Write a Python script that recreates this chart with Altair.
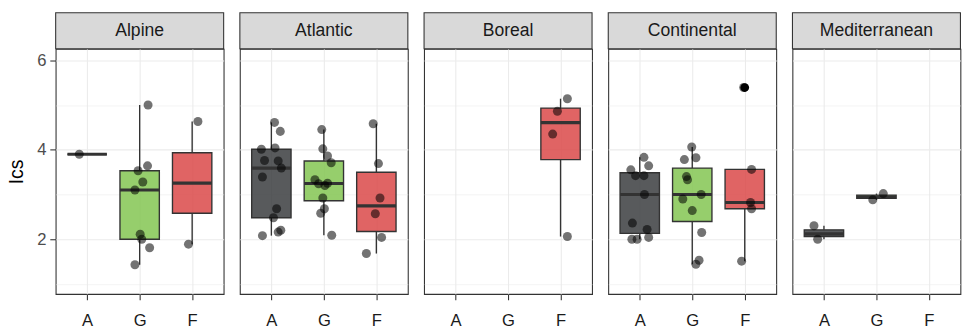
import json

import altair as alt
import pandas as pd

REGIONS = ["Alpine", "Atlantic", "Boreal", "Continental", "Mediterranean"]
GROUPS = ["A", "G", "F"]
GROUP_FILLS = ["#3b3d40", "#84c652", "#da4949"]

# Ics per region: group, value, horizontal jitter of the dot (None = value not drawn as a dot)
alpine_group = ["A",
                "G", "G", "G", "G", "G", "G", "G", "G", "G",
                "F", "F", "F", "F"]
alpine_ics = [3.90,
              5.00, 3.53, 3.64, 3.28, 3.10, 2.11, 2.00, 1.81, 1.43,
              4.63, 1.89, 2.81, 3.70]
alpine_jitter = [-0.15,
                 0.16, -0.03, 0.15, 0.06, -0.09, 0.01, 0.04, 0.19, -0.09,
                 0.11, -0.07, None, None]

atlantic_group = ["A", "A", "A", "A", "A", "A", "A", "A", "A", "A", "A", "A", "A",
                  "G", "G", "G", "G", "G", "G", "G", "G", "G", "G", "G", "G",
                  "F", "F", "F", "F", "F", "F"]
atlantic_ics = [4.61, 4.41, 4.01, 4.04, 3.76, 3.75, 3.59, 3.39, 2.68, 2.48, 2.08, 2.16, 2.20,
                4.45, 4.02, 3.86, 3.71, 3.33, 3.24, 3.25, 3.20, 2.92, 2.68, 2.58, 2.09,
                4.58, 3.69, 2.92, 2.57, 2.04, 1.68]
atlantic_jitter = [0.06, 0.17, -0.19, 0.07, -0.13, 0.13, 0.19, -0.17, 0.10, 0.04, -0.17, 0.13, 0.18,
                   -0.04, -0.02, 0.07, 0.14, -0.17, -0.10, 0.07, 0.02, -0.02, 0.01, -0.06, 0.15,
                   -0.06, 0.04, 0.07, -0.02, 0.10, -0.19]

boreal_group = ["F", "F", "F", "F"]
boreal_ics = [5.14, 4.86, 4.35, 2.06]
boreal_jitter = [0.13, -0.06, -0.15, 0.13]

continental_group = ["A", "A", "A", "A", "A", "A", "A", "A", "A", "A", "A",
                     "G", "G", "G", "G", "G", "G", "G", "G", "G", "G", "G",
                     "F", "F", "F", "F", "F"]
continental_ics = [3.83, 3.64, 3.55, 3.42, 3.42, 3.00, 2.36, 2.22, 2.00, 2.00, 2.04,
                   4.06, 3.78, 3.82, 3.40, 3.33, 2.90, 3.00, 2.64, 2.15, 1.44, 1.53,
                   5.39, 3.56, 2.82, 2.68, 1.51]
continental_jitter = [0.08, 0.17, -0.17, -0.08, 0.08, 0.09, -0.14, 0.14, -0.15, -0.05, 0.17,
                      -0.01, -0.15, 0.07, -0.11, -0.09, -0.18, 0.17, 0.00, 0.18, 0.07, 0.13,
                      -0.02, 0.13, 0.11, 0.13, -0.06]

mediterranean_group = ["A", "A", "A", "G", "G"]
mediterranean_ics = [2.30, 2.00, 2.12, 2.88, 3.02]
mediterranean_jitter = [-0.19, -0.12, None, -0.07, 0.13]

frames = []
for name, grp, val, jit in [
    ("Alpine", alpine_group, alpine_ics, alpine_jitter),
    ("Atlantic", atlantic_group, atlantic_ics, atlantic_jitter),
    ("Boreal", boreal_group, boreal_ics, boreal_jitter),
    ("Continental", continental_group, continental_ics, continental_jitter),
    ("Mediterranean", mediterranean_group, mediterranean_ics, mediterranean_jitter),
]:
    frames.append(pd.DataFrame({"region": name, "group": grp, "ics": val, "jitter": jit}))
data = pd.concat(frames, ignore_index=True)
strips = pd.DataFrame({"region": REGIONS})

W, H = 172, 251
STRIP_H = 37
GROUPS_JS = json.dumps(GROUPS)
EVEN = "datum.value % 2 === 0"

x_scale = alt.Scale(domain=[0.4, 3.6], nice=False, zero=False)
y_scale = alt.Scale(domain=[0.777, 6.255], nice=False, zero=False)

x_axis = alt.Axis(
    values=[1, 2, 3], labelExpr=f"{GROUPS_JS}[datum.value - 1]", title=None,
    domain=False, tickSize=6, tickColor="#333333", tickWidth=1.1,
    labelFontSize=17, labelColor="#1a1a1a", labelPadding=13,
    grid=True, gridColor="#ebebeb", gridWidth=1.1,
)


def y_axis(first):
    common = dict(
        values=[1, 2, 3, 4, 5, 6], domain=False, grid=True, gridColor="#ebebeb",
        gridWidth={"condition": {"test": EVEN, "value": 1.1}, "value": 0.55},
    )
    if first:
        return alt.Axis(
            title="Ics", titleFontSize=20, titleFontWeight="normal", titleColor="#000000",
            titlePadding=10, labelExpr=f"{EVEN} ? datum.label : ''",
            labelFontSize=17, labelColor="#4d4d4d", labelPadding=4,
            tickSize=6, tickColor="#333333", tickWidth=1.1,
            tickOpacity={"condition": {"test": EVEN, "value": 1}, "value": 0},
            **common,
        )
    return alt.Axis(title=None, labels=False, ticks=False, **common)


def panel(region, first):
    ya = y_axis(first)

    def X(f):
        return alt.X(f, type="quantitative", scale=x_scale, axis=x_axis)

    def Y(f):
        return alt.Y(f, type="quantitative", scale=y_scale, axis=ya)

    base = alt.Chart(data).transform_filter(
        alt.datum.region == region
    ).transform_calculate(idx=f"indexof({GROUPS_JS}, datum.group) + 1")

    fenced = base.transform_joinaggregate(
        q1="q1(ics)", q3="q3(ics)", groupby=["group"]
    ).transform_calculate(
        lo="datum.q1 - 1.5 * (datum.q3 - datum.q1)",
        hi="datum.q3 + 1.5 * (datum.q3 - datum.q1)",
    )

    stats = fenced.transform_calculate(
        inside="datum.ics >= datum.lo && datum.ics <= datum.hi ? datum.ics : null"
    ).transform_aggregate(
        q1="q1(ics)", med="median(ics)", q3="q3(ics)",
        wlo="min(inside)", whi="max(inside)", groupby=["group", "idx"],
    ).transform_calculate(left="datum.idx - 0.375", right="datum.idx + 0.375")

    whisk_lo = stats.mark_rule(color="#333333", strokeWidth=1.4).encode(
        x=X("idx"), y=Y("wlo"), y2="q1:Q")
    whisk_hi = stats.mark_rule(color="#333333", strokeWidth=1.4).encode(
        x=X("idx"), y=Y("q3"), y2="whi:Q")
    box = stats.mark_rect(stroke="#333333", strokeWidth=1.4, fillOpacity=0.85).encode(
        x=X("left"), x2="right:Q", y=Y("q1"), y2="q3:Q",
        fill=alt.Fill("group:N", scale=alt.Scale(domain=GROUPS, range=GROUP_FILLS), legend=None),
    )
    median = stats.mark_rule(color="#333333", strokeWidth=3.2).encode(
        x=X("left"), x2="right:Q", y=Y("med"))

    outliers = fenced.transform_filter(
        "datum.ics < datum.lo || datum.ics > datum.hi"
    ).mark_circle(size=80, color="#000000", opacity=1).encode(x=X("idx"), y=Y("ics"))

    dots = base.transform_filter("isValid(datum.jitter)").transform_calculate(
        xj="datum.idx + datum.jitter"
    ).mark_circle(size=85, color="#000000", opacity=0.55).encode(x=X("xj"), y=Y("ics"))

    strip_base = alt.Chart(strips).transform_filter(alt.datum.region == region)
    strip = strip_base.mark_rect(fill="#d9d9d9", stroke="#333333", strokeWidth=1.1).encode(
        x=alt.value(0), x2=alt.value(W), y=alt.value(-STRIP_H), y2=alt.value(0))
    strip_text = strip_base.mark_text(
        fontSize=18, color="#1a1a1a", baseline="middle", align="center"
    ).encode(text="region:N", x=alt.value(W / 2), y=alt.value(-STRIP_H / 2))

    return alt.layer(
        whisk_lo, whisk_hi, box, median, outliers, dots, strip, strip_text
    ).properties(width=W, height=H)


panels = [panel(r, i == 0) for i, r in enumerate(REGIONS)]

chart = alt.hconcat(*panels, spacing=12.6).properties(
    padding={"left": 6, "top": 7, "right": 0, "bottom": 0}
).configure(font="Liberation Sans").configure_view(
    stroke="#333333", strokeWidth=1.1
).configure_axis(labelFont="Liberation Sans", titleFont="Liberation Sans")

chart.save("out.html", embed_options={"renderer": "svg", "actions": False})
